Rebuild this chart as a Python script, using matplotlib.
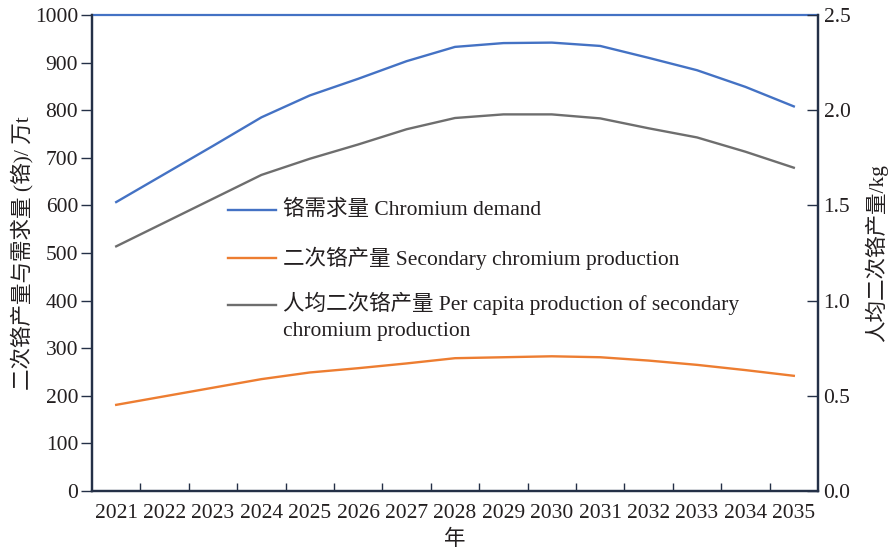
import matplotlib
matplotlib.use("Agg")
import matplotlib.pyplot as plt
from matplotlib.lines import Line2D

plt.rcParams['font.family'] = ['Liberation Serif', 'Noto Sans CJK SC', 'DejaVu Sans']

years = [str(y) for y in range(2021, 2036)]
demand = [607, 666, 725, 785, 831, 866, 903, 933, 941, 942, 935, 910, 884, 849, 808]
secondary = [181, 199, 217, 235, 249, 258, 268, 279, 281, 283, 281, 274, 265, 254, 242]
per_capita = [1.285, 1.410, 1.535, 1.660, 1.745, 1.820, 1.900, 1.959, 1.978, 1.978,
              1.957, 1.905, 1.857, 1.782, 1.698]

labels = ["铬需求量 Chromium demand",
          "二次铬产量 Secondary chromium production",
          "人均二次铬产量 Per capita production of secondary\nchromium production"]
colors = ["#4472C4", "#ED7D31", "#6E6E6E"]
spine_col = "#243047"
text_col = "#231F20"
fs = 15.5

fig = plt.figure(figsize=(8.88, 5.51), dpi=100)
ax = fig.add_axes([92/888, 60/551, 726/888, 476/551])
ax2 = ax.twinx()

x = list(range(len(years)))
ax.plot(x, demand, color=colors[0], lw=1.7)
ax.plot(x, secondary, color=colors[1], lw=1.7)
ax2.plot(x, per_capita, color=colors[2], lw=1.7)

ax.set_xlim(-0.5, len(years) - 0.5)
ax.set_ylim(0, 1000)
ax2.set_ylim(0, 2.5)

ax.set_yticks(range(0, 1001, 100))
rticks = [0, 0.5, 1.0, 1.5, 2.0, 2.5]
ax2.set_yticks(rticks)
ax2.set_yticklabels([f"{v:.1f}" for v in rticks])

# category ticks at boundaries, labels at centres
ax.set_xticks([i + 0.5 for i in range(len(years) - 1)])
ax.set_xticklabels([])
ax.set_xticks(x, minor=True)
ax.set_xticklabels(years, minor=True)
ax.tick_params(axis='x', which='major', direction='in', length=6, color=spine_col, width=1)
ax.tick_params(axis='x', which='minor', length=0, pad=9, labelsize=fs, labelcolor=text_col)
ax.tick_params(axis='y', direction='out', length=8, color=spine_col, width=1,
               labelsize=fs, labelcolor=text_col, pad=2)
ax2.tick_params(axis='y', direction='in', length=8, color=spine_col, width=1,
                labelsize=fs, labelcolor=text_col, pad=4)

for a in (ax, ax2):
    for s in ('left', 'right', 'bottom'):
        a.spines[s].set_color(spine_col)
        a.spines[s].set_linewidth(1.6)
ax.spines['top'].set_color(colors[0])
ax.spines['top'].set_linewidth(1.6)
ax2.spines['top'].set_visible(False)

ax.set_ylabel("二次铬产量与需求量 (铬)/ 万t", fontsize=fs, color=text_col)
ax.yaxis.label.set_verticalalignment('center')
ax.yaxis.set_label_coords(-0.0964, 0.50)
ax2.set_ylabel("人均二次铬产量/kg", fontsize=fs, color=text_col)
ax2.yaxis.label.set_verticalalignment('center')
ax2.yaxis.set_label_coords(1.0800, 0.50)
ax.set_xlabel("年", fontsize=fs, color=text_col, labelpad=5)

# legend drawn inside the plot area
rows_y = [210, 258, 305]
for lab, col, yy in zip(labels, colors, rows_y):
    fy = 1 - yy / 551
    fig.add_artist(Line2D([228/888, 276/888], [fy, fy], color=col, lw=1.7))
    if '\n' in lab:
        fig.text(283/888, fy + 13/551, lab, fontsize=fs, color=text_col,
                 ha='left', va='top', linespacing=1.45)
    else:
        fig.text(283/888, fy, lab, fontsize=fs, color=text_col,
                 ha='left', va='center')

fig.savefig("out.png", dpi=100)
